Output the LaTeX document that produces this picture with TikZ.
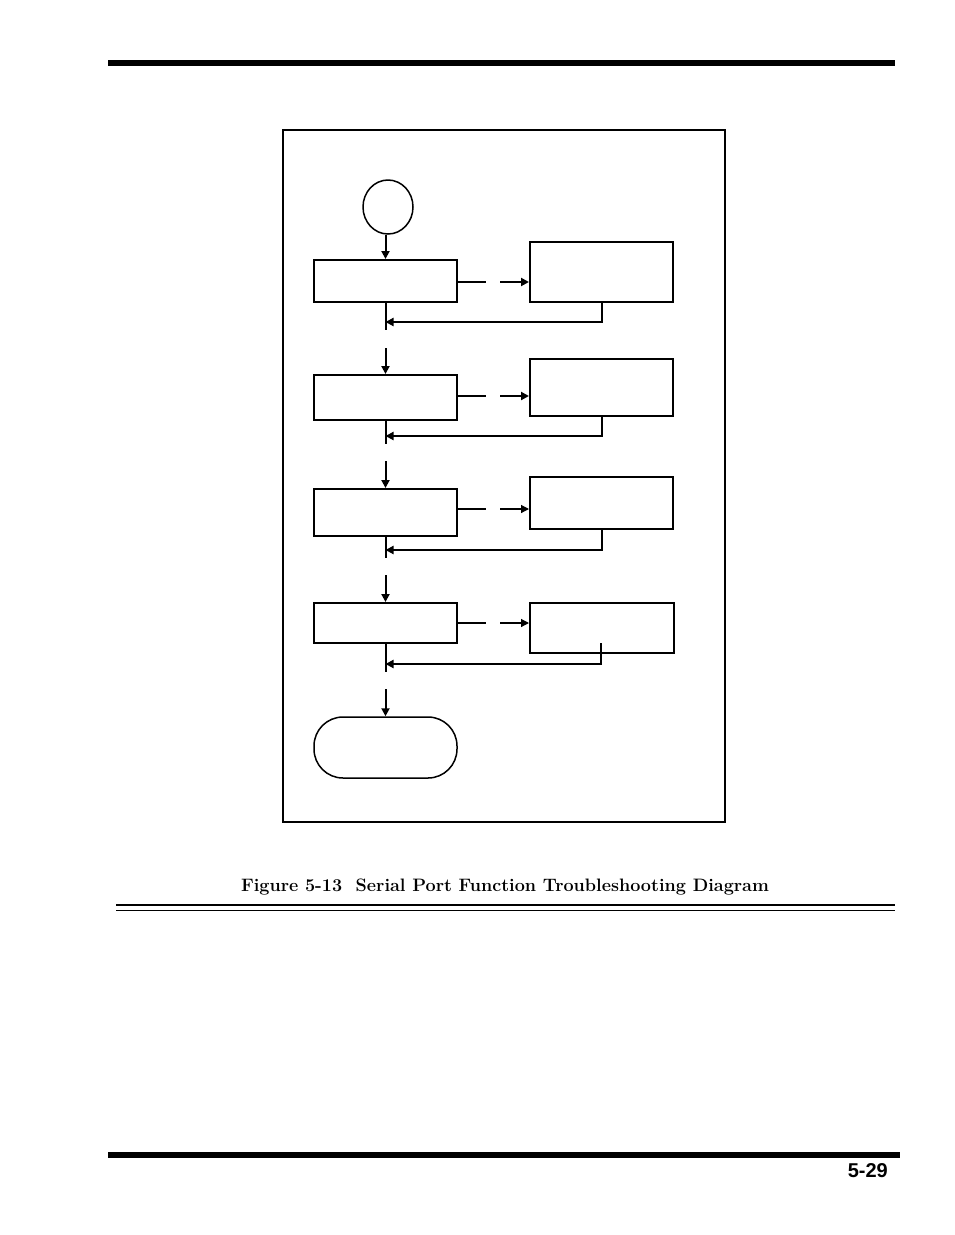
\documentclass[tikz,border=0pt]{standalone}
\usepackage{fontspec}
\usetikzlibrary{positioning}
\usetikzlibrary{arrows.meta}
\usetikzlibrary{shapes.geometric}
\newfontfamily\pagefont{Liberation Sans}

\begin{document}
\begin{tikzpicture}[
		x=1pt,y=-1pt,
		stepbox/.style={draw,line width=2pt,minimum width=143pt,inner sep=0pt},
		flow/.style={line width=2pt,-{Triangle[length=8pt,width=8pt]}},
		thinflow/.style={line width=1.2pt,-{Triangle[length=8pt,width=8pt]}},
		link/.style={line width=2pt},
		thinlink/.style={line width=1.2pt}
		]
	\useasboundingbox (0,0) rectangle (954,1235);
	% page rules
	\fill (108,60) rectangle (895,66);
	\fill (108,1152) rectangle (900,1158);
	\draw[line width=1.5pt] (116,905) -- (895,905);
	\draw[line width=1.5pt] (116,910.5) -- (895,910.5);
	% frame
	\draw[line width=1.5pt] (283,130) rectangle (725,822);
	% start
	\node[ellipse,draw,line width=1.5pt,minimum width=50pt,minimum height=54pt,inner sep=0pt] (start) at (388,207) {};
	% left column
	\node[stepbox,minimum height=42pt] (test1) at (385.5,281) {};
	\node[stepbox,minimum height=45pt] (test2) at (385.5,397.5) {};
	\node[stepbox,minimum height=47pt] (test3) at (385.5,512.5) {};
	\node[stepbox,minimum height=40pt] (test4) at (385.5,623) {};
	\node[draw,line width=1.5pt,minimum width=143pt,minimum height=61pt,rounded corners=29pt] (done) at (385.5,747.5) {};
	% right column
	\node[stepbox,minimum height=60pt] (fix1) at (601.5,272) {};
	\node[stepbox,minimum height=57pt] (fix2) at (601.5,387.5) {};
	\node[stepbox,minimum height=52pt] (fix3) at (601.5,503) {};
	\node[stepbox,minimum height=50pt,minimum width=144pt] (fix4) at (602,628) {};
	% gap ends
	\coordinate (out1) at (385.5,330);
	\coordinate (out2) at (385.5,444);
	\coordinate (out3) at (385.5,558);
	\coordinate (out4) at (385.5,672);
	\coordinate (in2) at (385.5,348);
	\coordinate (in3) at (385.5,461);
	\coordinate (in4) at (385.5,575);
	\coordinate (in5) at (385.5,689);
	\coordinate (ret1) at (385.5,322);
	\coordinate (ret2) at (385.5,436);
	\coordinate (ret3) at (385.5,550);
	\coordinate (ret4) at (385.5,664);
	\coordinate (ret4 top) at (601,643);
	\coordinate (go1) at (486,282);
	\coordinate (go2) at (486,396);
	\coordinate (go3) at (486,509);
	\coordinate (go4) at (486,623);
	\coordinate (to1) at (500,282);
	\coordinate (to2) at (500,396);
	\coordinate (to3) at (500,509);
	\coordinate (to4) at (500,623);
	% down the column
	\draw[flow] (test1.north |- start.south) -- (test1);
	\draw[link] (test1) -- (out1);
	\draw[flow] (in2) -- (test2);
	\draw[link] (test2) -- (out2);
	\draw[flow] (in3) -- (test3);
	\draw[link] (test3) -- (out3);
	\draw[flow] (in4) -- (test4);
	\draw[link] (test4) -- (out4);
	\draw[flow] (in5) -- (done);
	% across and back
	\draw[link] (test1.east |- go1) -- (go1);
	\draw[flow] (to1) -- (fix1.west |- to1);
	\draw[flow] (fix1.south) |- (ret1);
	\draw[link] (test2.east |- go2) -- (go2);
	\draw[flow] (to2) -- (fix2.west |- to2);
	\draw[flow] (fix2.south) |- (ret2);
	\draw[thinlink] (test3.east |- go3) -- (go3);
	\draw[thinflow] (to3) -- (fix3.west |- to3);
	\draw[flow] (fix3.south) |- (ret3);
	\draw[thinlink] (test4.east |- go4) -- (go4);
	\draw[thinflow] (to4) -- (fix4.west |- to4);
	\draw[flow] (ret4 top) |- (ret4);
	% caption and page number
	\node[inner sep=0pt] (caption) at (505,887) {\fontsize{18}{21}\selectfont\bfseries Figure 5-13\ \ Serial Port Function Troubleshooting Diagram};
	\node[anchor=east,inner sep=0pt] (page) at (888,1171) {\pagefont\fontsize{20}{24}\selectfont\bfseries 5-29};
\end{tikzpicture}
\end{document}
